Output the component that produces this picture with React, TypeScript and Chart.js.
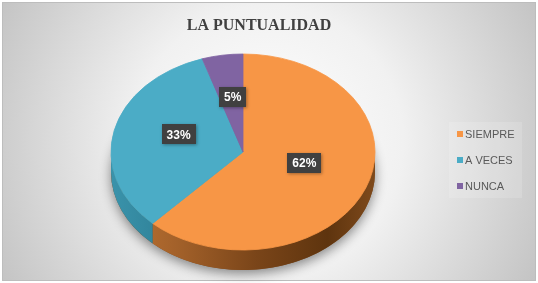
import React, { useEffect, useRef } from 'react';
import { Chart, registerables } from 'chart.js';
Chart.register(...registerables);

const categories = ['SIEMPRE', 'A VECES', 'NUNCA'];
const values = [62, 33, 5];
const percentLabels = ['62%', '33%', '5%'];
const topColors = ['#F79646', '#4BACC6', '#8064A2'];
const titleText = 'LA PUNTUALIDAD';

const W = 538;
const H = 283;
const CX = 243;
const CY = 152;
const RX = 132;
const RY = 98;
const DEPTH = 20;

function sideFill(ctx: CanvasRenderingContext2D, i: number) {
  const g = ctx.createLinearGradient(CX - RX, 0, CX + RX, 0);
  if (i === 0) {
    g.addColorStop(0, '#c07433');
    g.addColorStop(0.25, '#a3612a');
    g.addColorStop(0.55, '#7a4519');
    g.addColorStop(0.82, '#5e340e');
    g.addColorStop(1, '#7f4a1c');
  } else if (i === 1) {
    g.addColorStop(0, '#3a93ab');
    g.addColorStop(0.3, '#2b7a90');
    g.addColorStop(1, '#23667a');
  } else {
    g.addColorStop(0, '#6a5288');
    g.addColorStop(1, '#4d3a66');
  }
  return g;
}

const pie3d = {
  id: 'pie3d',
  beforeDraw(chart: any) {
    const ctx: CanvasRenderingContext2D = chart.ctx;
    ctx.save();
    ctx.fillStyle = '#ffffff';
    ctx.fillRect(0, 0, W, H);
    const g = ctx.createRadialGradient(268, 141, 0, 268, 141, 300);
    g.addColorStop(0, '#ffffff');
    g.addColorStop(0.45, '#f1f1f1');
    g.addColorStop(1, '#c4c4c4');
    ctx.fillStyle = g;
    ctx.fillRect(2, 2, 533, 278);
    ctx.strokeStyle = '#bdbdbd';
    ctx.lineWidth = 1;
    ctx.strokeRect(2.5, 2.5, 533, 278);
    ctx.restore();
  },
  beforeDatasetsDraw(chart: any) {
    const ctx: CanvasRenderingContext2D = chart.ctx;
    const arcs = chart.getDatasetMeta(0).data;
    const p = arcs[0].getProps(['x', 'y', 'outerRadius'], true);
    ctx.save();
    ctx.shadowColor = 'rgba(0,0,0,0.45)';
    ctx.shadowBlur = 12;
    ctx.shadowOffsetY = 4;
    ctx.fillStyle = '#7a4a20';
    ctx.beginPath();
    ctx.ellipse(CX, CY + DEPTH, RX, RY, 0, 0, Math.PI * 2);
    ctx.fill();
    ctx.restore();
    arcs.forEach((arc: any, i: number) => {
      const a = arc.getProps(['startAngle', 'endAngle'], true);
      for (let k = -1; k <= 1; k++) {
        const s = a.startAngle + 2 * Math.PI * k;
        const e = a.endAngle + 2 * Math.PI * k;
        const s0 = Math.max(s, 0);
        const e0 = Math.min(e, Math.PI);
        if (e0 <= s0) continue;
        ctx.save();
        ctx.beginPath();
        ctx.ellipse(CX, CY, RX, RY, 0, s0, e0, false);
        ctx.lineTo(CX + RX * Math.cos(e0), CY + DEPTH + RY * Math.sin(e0));
        ctx.ellipse(CX, CY + DEPTH, RX, RY, 0, e0, s0, true);
        ctx.closePath();
        ctx.fillStyle = sideFill(ctx, i);
        ctx.fill();
        ctx.restore();
      }
    });
    ctx.save();
    ctx.translate(CX, CY);
    ctx.scale(RX / p.outerRadius, RY / p.outerRadius);
    ctx.translate(-p.x, -p.y);
  },
  afterDatasetsDraw(chart: any) {
    const ctx: CanvasRenderingContext2D = chart.ctx;
    ctx.restore();
    const arcs = chart.getDatasetMeta(0).data;
    const p = arcs[0].getProps(['x', 'y', 'outerRadius'], true);
    arcs.forEach((arc: any, i: number) => {
      const c = arc.getCenterPoint(true);
      const X = CX + (c.x - p.x) * (RX / p.outerRadius);
      const Y = CY + (c.y - p.y) * (RY / p.outerRadius) - 7;
      ctx.save();
      ctx.font = 'bold 12px "Liberation Sans"';
      const tw = ctx.measureText(percentLabels[i]).width;
      const bw = tw + 10;
      const bh = 20;
      ctx.shadowColor = 'rgba(0,0,0,0.35)';
      ctx.shadowBlur = 3;
      ctx.shadowOffsetX = 1;
      ctx.shadowOffsetY = 1;
      ctx.fillStyle = '#404040';
      ctx.fillRect(Math.round(X - bw / 2), Math.round(Y - bh / 2), Math.round(bw), bh);
      ctx.shadowColor = 'transparent';
      ctx.fillStyle = '#ffffff';
      ctx.textAlign = 'center';
      ctx.textBaseline = 'middle';
      ctx.fillText(percentLabels[i], X, Y + 1);
      ctx.restore();
    });
  },
  afterDraw(chart: any) {
    const ctx: CanvasRenderingContext2D = chart.ctx;
    ctx.save();
    ctx.font = 'bold 16px "Liberation Serif"';
    ctx.fillStyle = '#404040';
    ctx.textAlign = 'center';
    ctx.textBaseline = 'alphabetic';
    ctx.fillText(titleText, 259, 30);
    ctx.fillStyle = 'rgba(255,255,255,0.15)';
    ctx.fillRect(449, 122, 73, 76);
    ctx.font = '11px "Liberation Sans"';
    ctx.textAlign = 'left';
    ctx.textBaseline = 'middle';
    categories.forEach((cat, i) => {
      const y = 134 + i * 26;
      ctx.fillStyle = topColors[i];
      ctx.fillRect(457, y - 3, 6, 6);
      ctx.fillStyle = '#595959';
      ctx.fillText(cat, 465, y + 0.5);
    });
    ctx.restore();
  },
};

export default function App() {
  const ref = useRef<HTMLCanvasElement>(null);
  useEffect(() => {
    const chart = new Chart(ref.current as HTMLCanvasElement, {
      type: 'pie',
      data: {
        labels: categories,
        datasets: [
          {
            data: values,
            backgroundColor: topColors,
            borderColor: topColors,
            borderWidth: 1,
            clip: false,
          } as any,
        ],
      },
      options: {
        responsive: false,
        animation: false,
        devicePixelRatio: 1,
        events: [],
        plugins: {
          legend: { display: false },
          tooltip: { enabled: false },
          title: { display: false },
        },
      },
      plugins: [pie3d as any],
    });
    return () => chart.destroy();
  }, []);
  return (
    <div style={{ position: 'absolute', left: 0, top: 0, width: W, height: H }}>
      <canvas ref={ref} width={W} height={H} style={{ display: 'block', width: W, height: H }} />
    </div>
  );
}
